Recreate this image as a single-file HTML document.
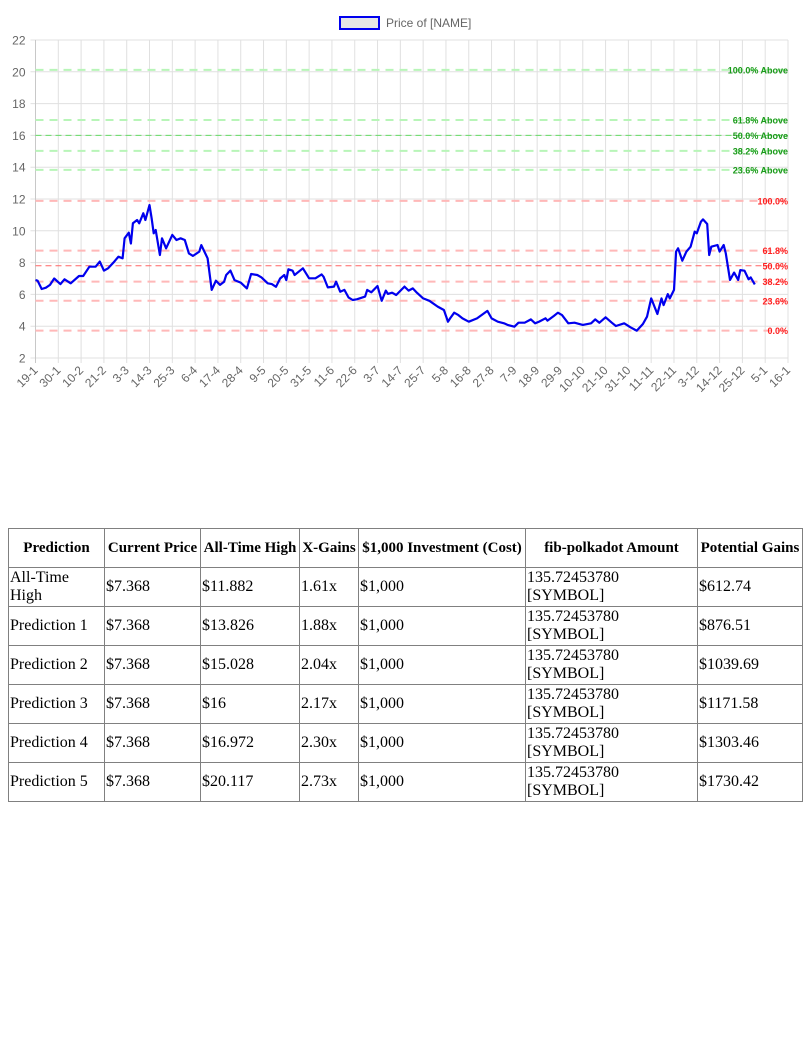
<!DOCTYPE html>
<html><head><meta charset="utf-8">
<style>
body{margin:0;background:#fff;width:810px;height:1060px;overflow:hidden;position:relative;font-family:"Liberation Sans",sans-serif}
#chart{position:absolute;left:0;top:0}
table{position:absolute;left:8px;top:528px;width:794px;border-collapse:collapse;table-layout:fixed;font-family:"Liberation Serif",serif;font-size:16px;color:#000}
td,th{border:1px solid #808080;padding:0 1px;height:38px;line-height:18px;text-align:left;overflow:hidden}
th{text-align:center;font-size:15px;font-weight:bold;line-height:18px}
</style></head><body>
<svg id="chart" width="810" height="420" xmlns="http://www.w3.org/2000/svg"></svg>
<table>
<colgroup><col style="width:96px"><col style="width:96px"><col style="width:99px"><col style="width:59px"><col style="width:167px"><col style="width:172px"><col style="width:105px"></colgroup>
<tr><th>Prediction</th><th>Current Price</th><th>All-Time High</th><th>X-Gains</th><th>$1,000 Investment (Cost)</th><th>fib-polkadot Amount</th><th>Potential Gains</th></tr>
<tr><td>All-Time High</td><td>$7.368</td><td>$11.882</td><td>1.61x</td><td>$1,000</td><td>135.72453780 [SYMBOL]</td><td>$612.74</td></tr>
<tr><td>Prediction 1</td><td>$7.368</td><td>$13.826</td><td>1.88x</td><td>$1,000</td><td>135.72453780 [SYMBOL]</td><td>$876.51</td></tr>
<tr><td>Prediction 2</td><td>$7.368</td><td>$15.028</td><td>2.04x</td><td>$1,000</td><td>135.72453780 [SYMBOL]</td><td>$1039.69</td></tr>
<tr><td>Prediction 3</td><td>$7.368</td><td>$16</td><td>2.17x</td><td>$1,000</td><td>135.72453780 [SYMBOL]</td><td>$1171.58</td></tr>
<tr><td>Prediction 4</td><td>$7.368</td><td>$16.972</td><td>2.30x</td><td>$1,000</td><td>135.72453780 [SYMBOL]</td><td>$1303.46</td></tr>
<tr><td>Prediction 5</td><td>$7.368</td><td>$20.117</td><td>2.73x</td><td>$1,000</td><td>135.72453780 [SYMBOL]</td><td>$1730.42</td></tr>
</table>
<script>
const tickLabels=["19-1","30-1","10-2","21-2","3-3","14-3","25-3","6-4","17-4","28-4","9-5","20-5","31-5","11-6","22-6","3-7","14-7","25-7","5-8","16-8","27-8","7-9","18-9","29-9","10-10","21-10","31-10","11-11","22-11","3-12","14-12","25-12","5-1","16-1"];
const yTicks=[2,4,6,8,10,12,14,16,18,20,22];
const days=[0,1,3,5,7,9,12,14,17,21,23,26,29,31,33,35,38,40,42,43,45,46,47,49,50,52,53,55,56,57,58,60,61,63,66,68,70,72,74,76,79,80,83,85,87,89,91,92,94,96,99,102,104,107,109,112,114,116,118,120,121,122,124,125,129,132,135,138,139,141,144,145,147,149,151,153,155,159,160,162,165,167,169,170,172,174,178,180,182,184,187,190,194,197,199,200,202,204,206,209,213,218,220,223,226,228,231,233,236,239,241,243,246,247,250,252,254,257,260,264,268,270,272,275,278,280,284,287,290,293,295,297,300,302,303,305,306,308,309,310,312,314,316,318,319,321,322,324,325,326,329,330,332,333,335,337,339,340,342,344,345,347];
const prices=[6.9,6.86,6.34,6.42,6.6,7.0,6.65,6.95,6.7,7.16,7.16,7.74,7.74,8.06,7.5,7.64,8.06,8.37,8.27,9.53,9.88,9.2,10.47,10.68,10.47,11.1,10.68,11.62,10.8,9.84,10.05,8.48,9.53,8.9,9.74,9.42,9.53,9.42,8.58,8.42,8.69,9.1,8.27,6.28,6.86,6.6,6.8,7.22,7.5,6.9,6.74,6.38,7.28,7.22,7.07,6.7,6.65,6.48,7.0,7.22,6.9,7.58,7.49,7.22,7.64,7.01,7.01,7.26,7.11,6.44,6.49,6.8,6.17,6.28,5.81,5.65,5.69,5.86,6.28,6.13,6.53,5.6,6.24,6.03,6.11,5.96,6.49,6.24,6.38,6.11,5.75,5.6,5.23,5.02,4.28,4.49,4.85,4.7,4.49,4.28,4.49,4.96,4.49,4.28,4.18,4.07,3.97,4.22,4.22,4.43,4.18,4.29,4.5,4.35,4.64,4.85,4.7,4.18,4.22,4.08,4.18,4.43,4.22,4.56,4.22,4.01,4.18,3.93,3.72,4.14,4.6,5.75,4.77,5.75,5.33,6.02,5.75,6.28,8.69,8.9,8.12,8.69,9.0,9.95,9.84,10.57,10.72,10.43,8.48,9.0,9.11,8.69,9.11,8.58,6.91,7.37,6.91,7.53,7.49,6.95,7.07,6.63];
const fibBelow=[3.72,5.6,6.8,7.8,8.75,11.88];
const fibBelowLabels=["0.0%","23.6%","38.2%","50.0%","61.8%","100.0%"];
const fibAbove=[13.83,15.03,16.0,16.97,20.12];
const fibAboveLabels=["23.6% Above","38.2% Above","50.0% Above","61.8% Above","100.0% Above"];

const svg=document.getElementById('chart');
const NS='http://www.w3.org/2000/svg';
const X0=35.5,X1=788,Y0=358,Y1=40,YMIN=2,YMAX=22,DAYSTEP=11;
const tickGap=(X1-X0)/(tickLabels.length-1);
function xDay(d){return X0+d*tickGap/DAYSTEP;}
function yVal(v){return Y0-(v-YMIN)/(YMAX-YMIN)*(Y0-Y1);}
function mk(tag,attrs,parent){const e=document.createElementNS(NS,tag);for(const k in attrs)e.setAttribute(k,attrs[k]);(parent||svg).appendChild(e);return e;}

const grid=mk('g',{});


yTicks.forEach(v=>{
  const y=yVal(v);
  const l=mk('line',{x1:X0-5,x2:X1,y1:y,y2:y,stroke:'#e0e0e0','stroke-width':1},grid);
  
  
  const t=mk('text',{x:X0-10,y:y+4.5,'text-anchor':'end','font-size':12,fill:'#666'},grid);
  
  
  t.textContent=v;
});
tickLabels.forEach((lab,i)=>{
  const x=X0+i*tickGap;
  const l=mk('line',{x1:x,x2:x,y1:Y1,y2:Y0+5,stroke:i==0?'#c8c8c8':'#e0e0e0','stroke-width':1},grid);
  
  
  const t=mk('text',{x:x+3,y:Y0+13,'text-anchor':'end','font-size':12,fill:'#666',transform:`rotate(-45 ${x+3} ${Y0+13})`},grid);
  
  
  t.textContent=lab;
});

function fib(vals,labels,color,strong,name){
  vals.forEach((v,i)=>{
    const y=yVal(v);
    const isMid=labels[i].startsWith('50.0%');
    const l=mk('line',{x1:X0,x2:X1,y1:y,y2:y,stroke:isMid?strong:color,'stroke-width':isMid?1:2,'stroke-dasharray':isMid?'6 4':'8 6'});
    
    
    const t=mk('text',{x:788,y:y+3.5,'text-anchor':'end','font-size':9,'font-weight':'bold',fill:name=='fib-above'?'#1a9a1a':'#ff2020'});
    
    
    t.textContent=labels[i];
  });
}
fib(fibBelow,fibBelowLabels,'#ffb8b8','#ff6666','fib-below');
fib(fibAbove,fibAboveLabels,'#b8f5b8','#66dd66','fib-above');

const d=days.map((dd,i)=>(i?'L':'M')+xDay(dd).toFixed(1)+' '+yVal(prices[i]).toFixed(1)).join(' ');
const line=mk('path',{d:d,fill:'none',stroke:'#0000ee','stroke-width':2.2,'stroke-linejoin':'round'});



const lg=mk('g',{});


mk('rect',{x:340,y:17,width:39,height:12,fill:'#e6e6e6',stroke:'#0000ee','stroke-width':2},lg);
const lt=mk('text',{x:386,y:27,'font-size':12,fill:'#666'},lg);


lt.textContent='Price of [NAME]';
</script>
</body></html>
